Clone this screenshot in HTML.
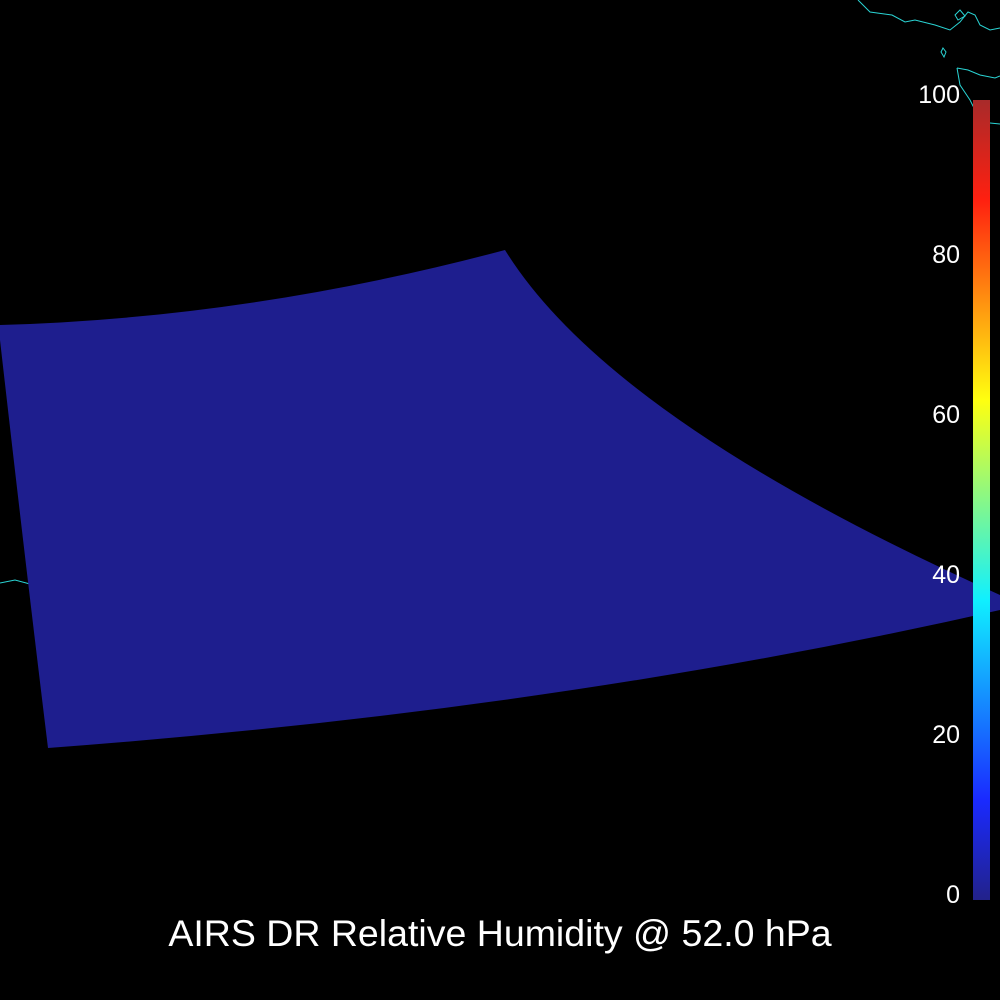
<!DOCTYPE html>
<html><head><meta charset="utf-8"><style>
html,body{margin:0;padding:0;background:#000;width:1000px;height:1000px;overflow:hidden}
</style></head><body>
<svg width="1000" height="1000" viewBox="0 0 1000 1000" xmlns="http://www.w3.org/2000/svg">
<defs>
<linearGradient id="jet" x1="0" y1="1" x2="0" y2="0">
<stop offset="0" stop-color="#22228a"/>
<stop offset="0.125" stop-color="#1a2aff"/>
<stop offset="0.375" stop-color="#10f0ff"/>
<stop offset="0.625" stop-color="#ffff10"/>
<stop offset="0.875" stop-color="#ff2010"/>
<stop offset="1" stop-color="#a82a2a"/>
</linearGradient>
</defs>
<rect width="1000" height="1000" fill="#000"/>
<g fill="none" stroke="#2ad4d4" stroke-width="1">
<path d="M858,0 L870,12 L892,15 L905,22 L915,20 L935,25 L950,30 L960,22 L968,12 L975,15 L980,25 L990,30 L1000,28"/>
<path d="M955,15 L960,10 L965,16 L958,20 Z"/>
<path d="M943,48 L946,52 L944,57 L941,52 Z"/>
<path d="M957,68 L968,70 L980,75 L995,78 L1000,76"/>
<path d="M957,68 L960,85 L970,100 L975,110"/>
<path d="M990,123 L1000,124"/>
<path d="M0,583 L15,580 L30,584"/>
</g>
<path d="M0,325 Q250,318 505,250 Q610,420 1000,595 L1000,610 Q560,710 48,748 Q25,560 0,340 Z" fill="#1e1e8e"/>
<rect x="973" y="100" width="17" height="800" fill="url(#jet)"/>
<g font-family="Liberation Sans, sans-serif" font-size="25" fill="#fff" text-anchor="end">
<text x="960" y="103">100</text>
<text x="960" y="263">80</text>
<text x="960" y="423">60</text>
<text x="960" y="583">40</text>
<text x="960" y="743">20</text>
<text x="960" y="903">0</text>
</g>
<text x="500" y="946" font-family="Liberation Sans, sans-serif" font-size="37.5" fill="#fff" text-anchor="middle">AIRS DR Relative Humidity @ 52.0 hPa</text>
</svg>
</body></html>
